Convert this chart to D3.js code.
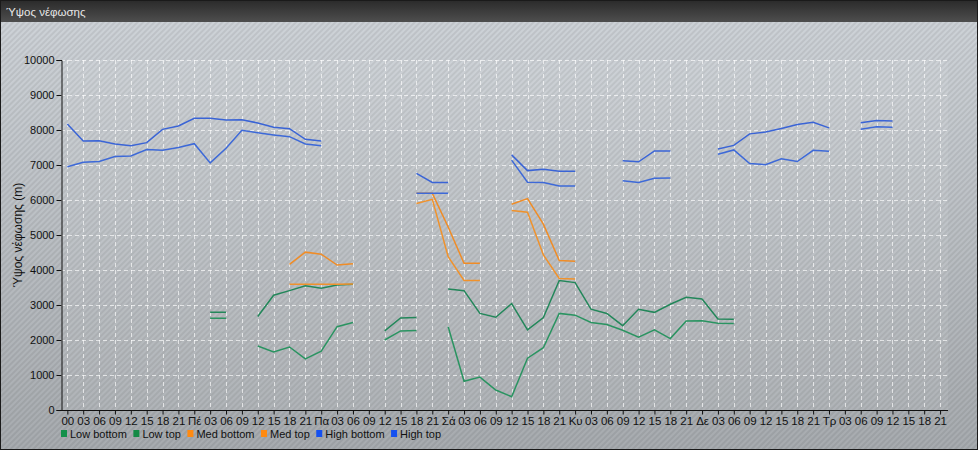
<!DOCTYPE html>
<html><head><meta charset="utf-8">
<script src="https://cdn.jsdelivr.net/npm/d3@7/dist/d3.min.js"></script>
<style>html,body{margin:0;padding:0;background:#fff;}svg{display:block;}</style>
</head><body>
<script>
const tickLabels = ["00","03","06","09","12","15","18","21","Πέ","03","06","09","12","15","18","21","Πα","03","06","09","12","15","18","21","Σά","03","06","09","12","15","18","21","Κυ","03","06","09","12","15","18","21","Δε","03","06","09","12","15","18","21","Τρ","03","06","09","12","15","18","21"];
const N = null;
const lowBottom = [N,N,N,N,N,N,N,N,N,2620,2620,N,1830,1660,1800,1460,1680,2380,2500,N,2000,2260,2270,N,2380,820,940,570,380,1480,1780,2760,2710,2500,2440,2280,2080,2290,2040,2540,2550,2480,2470,N,N,N,N,N,N,N,N,N,N,N,N,N];
const lowTop = [N,N,N,N,N,N,N,N,N,2790,2790,N,2670,3280,3410,3550,3480,3570,3590,N,2260,2630,2640,N,3460,3410,2760,2650,3040,2290,2640,3700,3640,2880,2760,2410,2880,2790,3020,3220,3170,2600,2590,N,N,N,N,N,N,N,N,N,N,N,N,N];
const medBottom = [N,N,N,N,N,N,N,N,N,N,N,N,N,N,3590,3590,3590,3595,3600,N,N,N,5900,6020,4380,3700,3700,N,5700,5650,4430,3760,3740,N,N,N,N,N,N,N,N,N,N,N,N,N,N,N,N,N,N,N,N,N,N,N];
const medTop = [N,N,N,N,N,N,N,N,N,N,N,N,N,N,4160,4510,4450,4140,4180,N,N,N,6190,6190,5230,4190,4190,N,5880,6040,5310,4270,4250,N,N,N,N,N,N,N,N,N,N,N,N,N,N,N,N,N,N,N,N,N,N,N];
const highBottom = [6950,7080,7100,7240,7260,7440,7420,7500,7610,7060,7480,7990,7920,7860,7810,7600,7550,N,N,N,N,N,6190,6190,6190,N,N,N,7140,6510,6500,6400,6400,N,N,6550,6500,6620,6630,N,N,7310,7430,7040,7010,7180,7100,7420,7390,N,8020,8090,8080,N,N,N];
const highTop = [8171,7686,7695,7600,7552,7638,8019,8114,8333,8333,8286,8295,8200,8076,8038,7733,7686,N,N,N,N,N,6760,6500,6500,N,N,N,7290,6840,6880,6820,6820,N,N,7120,7090,7400,7400,N,N,7460,7560,7890,7940,8040,8160,8220,8060,N,8210,8270,8260,N,N,N];
const seriesNames = ["Low bottom","Low top","Med bottom","Med top","High bottom","High top"];
const seriesData = [lowBottom, lowTop, medBottom, medTop, highBottom, highTop];
const lineColors = ["#2a9461","#23875a","#f0922c","#f08c26","#3d69d8","#3a64d6"];
const legendColors = ["#13904a","#138a45","#ff8a10","#ff8a10","#1450f0","#1450f0"];
const yTicks = [0,1000,2000,3000,4000,5000,6000,7000,8000,9000,10000];
const title = "Ύψος νέφωσης";
const yTitle = "Ύψος νέφωσης (m)";

const W = 978, H = 450;
const L = 61, R = 948, T = 60, B = 410;
const FONT = "'Liberation Sans', Arial, sans-serif";
const svg = d3.select("body").append("svg").attr("width", W).attr("height", H)
  .style("font-family", FONT);
const defs = svg.append("defs");
const bg = defs.append("linearGradient").attr("id","bg").attr("x1",0).attr("y1",0).attr("x2",0).attr("y2",1);
bg.append("stop").attr("offset","0%").attr("stop-color","#cfd4d9");
bg.append("stop").attr("offset","100%").attr("stop-color","#a7abaf");
const tg = defs.append("linearGradient").attr("id","tg").attr("x1",0).attr("y1",0).attr("x2",0).attr("y2",1);
tg.append("stop").attr("offset","0%").attr("stop-color","#2a2a2a");
tg.append("stop").attr("offset","100%").attr("stop-color","#4e4e4e");
const pat = defs.append("pattern").attr("id","stripes").attr("width",4).attr("height",4)
  .attr("patternUnits","userSpaceOnUse").attr("patternTransform","rotate(45)");
pat.append("rect").attr("width",2).attr("height",4).attr("fill","rgba(0,0,0,0.07)");

svg.append("rect").attr("x",0).attr("y",0).attr("width",W).attr("height",H).attr("fill","url(#bg)");
svg.append("rect").attr("x",0).attr("y",0).attr("width",W).attr("height",H).attr("fill","url(#stripes)");
svg.append("rect").attr("x",L).attr("y",T).attr("width",R-L).attr("height",B-T).attr("fill","rgba(255,255,255,0.07)");
svg.append("rect").attr("x",0).attr("y",0).attr("width",W).attr("height",22).attr("fill","url(#tg)");
svg.append("rect").attr("x",0.5).attr("y",0.5).attr("width",W-1).attr("height",H-1).attr("fill","none").attr("stroke","#1a1a1a");
svg.append("text").attr("x",6).attr("y",16).attr("fill","#e8e8e8").attr("font-size",11.5).text(title);

const x = d3.scaleLinear().domain([-0.4, 55.5]).range([L, R]);
const y = d3.scaleLinear().domain([0, 10000]).range([B, T]);

// grid
const g = svg.append("g");
g.selectAll(".vg").data(tickLabels).enter().append("line")
  .attr("x1",(d,i)=>Math.round(x(i))+0.5).attr("x2",(d,i)=>Math.round(x(i))+0.5)
  .attr("y1",T).attr("y2",B).attr("stroke","rgba(255,255,255,0.65)").attr("stroke-dasharray","4,3");
g.selectAll(".hg").data(yTicks).enter().append("line")
  .attr("x1",L).attr("x2",R).attr("y1",d=>Math.round(y(d))+0.5).attr("y2",d=>Math.round(y(d))+0.5)
  .attr("stroke","rgba(255,255,255,0.65)").attr("stroke-dasharray","4,3");

// axes
const yAxis = d3.axisLeft(y).tickValues(yTicks).tickSize(5).tickPadding(2).tickFormat(d3.format("d"));
const ya = svg.append("g").attr("transform",`translate(${L+0.5},0)`).call(yAxis);
ya.select(".domain").attr("stroke","#111");
ya.selectAll(".tick line").attr("stroke","#111");
ya.selectAll("text").attr("font-size",11).attr("fill","#111").style("font-family",FONT);

const xAxis = d3.axisBottom(x).tickValues(d3.range(tickLabels.length)).tickSize(4).tickPadding(2)
  .tickFormat(i=>tickLabels[i]);
const xa = svg.append("g").attr("transform",`translate(0,${B+0.5})`).call(xAxis);
xa.select(".domain").attr("stroke","#111").attr("d",`M${L},0H${R}`);
xa.selectAll(".tick line").attr("stroke","#111");
xa.selectAll("text").attr("font-size",11.5).attr("fill","#111").style("font-family",FONT);

svg.append("text").attr("transform",`translate(22,${(T+B)/2}) rotate(-90)`)
  .attr("text-anchor","middle").attr("font-size",12).attr("fill","#111").text(yTitle);

// lines
const line = d3.line().defined(d=>d!=null).x((d,i)=>x(i)).y(d=>y(d));
seriesData.forEach((s,k)=>{
  svg.append("path").datum(s).attr("d",line).attr("fill","none")
    .attr("stroke",lineColors[k]).attr("stroke-width",1.5);
});

// legend
const lg = svg.append("g");
let lx = 61;
seriesNames.forEach((n,k)=>{
  lg.append("rect").attr("x",lx).attr("y",430).attr("width",6).attr("height",7).attr("fill",legendColors[k]);
  const t = lg.append("text").attr("x",lx+9).attr("y",438).attr("font-size",11).attr("fill","#111").text(n);
  lx += 9 + t.node().getComputedTextLength() + 6.5;
});
</script>
</body></html>
